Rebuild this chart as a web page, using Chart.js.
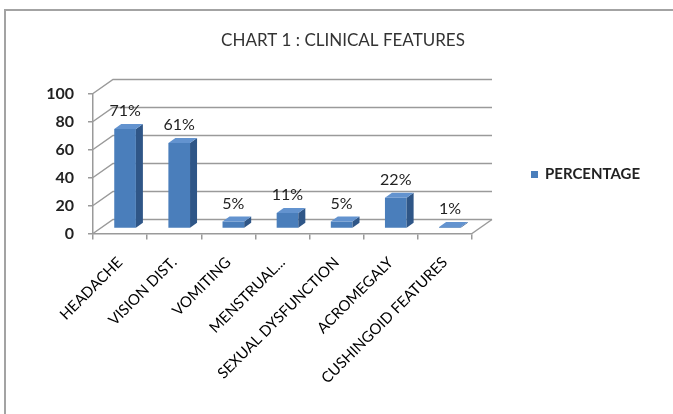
<!DOCTYPE html>
<html>
<head>
<meta charset="utf-8">
<script src="https://cdn.jsdelivr.net/npm/chart.js@4/dist/chart.umd.min.js"></script>
<style>
  html, body { margin: 0; padding: 0; background: #fff; }
  #wrap { width: 673px; height: 414px; }
</style>
</head>
<body>
<div id="wrap"><canvas id="myChart"></canvas></div>
<script>
var categories = ["HEADACHE", "VISION DIST.", "VOMITING", "MENSTRUAL...", "SEXUAL DYSFUNCTION", "ACROMEGALY", "CUSHINGOID FEATURES"];
var percentages = [71, 61, 5, 11, 5, 22, 1];
var yMin = 0, yMax = 100, yStep = 20;
var seriesName = "PERCENTAGE";
var chartTitle = "CHART 1 : CLINICAL FEATURES";

// fake 3d look (excel style)
var WALL_X = 20, WALL_Y = 14;   // back wall offset
var BAR_X = 5, BAR_Y = 5;       // bars sit half way into the floor
var DEPTH_X = 7, DEPTH_Y = 5;   // bar depth
var frontColor = "#4A7EBB", sideColor = "#2F5687", topColor = "#6393CF";
var lineColor = "#9a9a9a";

var threeD = {
  id: "threeD",
  beforeDraw: function (chart) {
    var ctx = chart.ctx;
    ctx.save();
    ctx.strokeStyle = "#a3a3a3";
    ctx.lineWidth = 2;
    ctx.strokeRect(5, 10, 720, 460);
    ctx.restore();
  },
  beforeDatasetsDraw: function (chart) {
    var ctx = chart.ctx;
    var a = chart.chartArea;
    var y = chart.scales.y;
    ctx.save();
    ctx.strokeStyle = lineColor;
    ctx.lineWidth = 1.5;
    y.ticks.forEach(function (t) {
      var py = y.getPixelForValue(t.value);
      ctx.beginPath();
      ctx.moveTo(a.left, py);
      ctx.lineTo(a.left + WALL_X, py - WALL_Y);
      ctx.lineTo(a.right + WALL_X, py - WALL_Y);
      ctx.stroke();
    });
    // right edge of the floor
    ctx.beginPath();
    ctx.moveTo(a.right, a.bottom);
    ctx.lineTo(a.right + WALL_X, a.bottom - WALL_Y);
    ctx.stroke();
    ctx.restore();

    ctx.save();
    ctx.translate(BAR_X, -BAR_Y);
  },
  afterDatasetsDraw: function (chart) {
    var ctx = chart.ctx;
    ctx.restore();
    var meta = chart.getDatasetMeta(0);
    var vals = chart.data.datasets[0].data;
    ctx.save();
    meta.data.forEach(function (bar, i) {
      var l = bar.x - bar.width / 2 + BAR_X;
      var r = bar.x + bar.width / 2 + BAR_X;
      var t = bar.y - BAR_Y;
      var b = bar.base - BAR_Y;
      ctx.fillStyle = sideColor;
      ctx.beginPath();
      ctx.moveTo(r, t);
      ctx.lineTo(r + DEPTH_X, t - DEPTH_Y);
      ctx.lineTo(r + DEPTH_X, b - DEPTH_Y);
      ctx.lineTo(r, b);
      ctx.closePath();
      ctx.fill();
      ctx.fillStyle = topColor;
      ctx.beginPath();
      ctx.moveTo(l, t);
      ctx.lineTo(l + DEPTH_X, t - DEPTH_Y);
      ctx.lineTo(r + DEPTH_X, t - DEPTH_Y);
      ctx.lineTo(r, t);
      ctx.closePath();
      ctx.fill();

      ctx.fillStyle = "#222";
      ctx.font = "16px Lato";
      ctx.textAlign = "center";
      ctx.textBaseline = "middle";
      ctx.fillText(vals[i] + "%", bar.x + BAR_X, t - 18);
    });
    ctx.restore();
  },
  afterDraw: function (chart) {
    // legend on the right, next to the plot
    var ctx = chart.ctx;
    var ds = chart.data.datasets[0];
    var a = chart.chartArea;
    var lx = a.right + 59, ly = (a.top + a.bottom) / 2 + 11;
    ctx.save();
    ctx.fillStyle = ds.backgroundColor;
    ctx.fillRect(lx, ly - 3.5, 7, 7);
    ctx.fillStyle = "#222";
    ctx.font = "bold 15px Lato";
    ctx.textAlign = "left";
    ctx.textBaseline = "middle";
    ctx.fillText(ds.label, lx + 14, ly);
    ctx.restore();
  }
};

var ctx = document.getElementById("myChart").getContext("2d");

var data = {
  labels: categories,
  datasets: [
    {
      label: seriesName,
      data: percentages,
      backgroundColor: frontColor,
      borderWidth: 0,
      barPercentage: 0.4,
      categoryPercentage: 1,
    },
  ],
};

var options = {
  responsive: true,
  maintainAspectRatio: false,
  animation: false,
  layout: {
    padding: { left: 13, right: 0, top: 0, bottom: 0 },
  },
  plugins: {
    title: {
      display: true,
      text: chartTitle,
      color: "#333",
      font: { family: "Lato", size: 17, weight: "normal" },
      padding: { top: 30.8, bottom: 42.3 },
    },
    legend: { display: false },
    tooltip: { enabled: false },
  },
  scales: {
    x: {
      grid: {
        display: true,
        drawOnChartArea: false,
        drawTicks: true,
        tickLength: 6,
        color: lineColor,
        lineWidth: 1.5,
        offset: true,
      },
      border: { display: true, color: lineColor, width: 1.5 },
      ticks: {
        autoSkip: false,
        maxRotation: 45,
        minRotation: 45,
        padding: 14,
        color: "#000",
        font: { family: "Lato", size: 15 },
      },
      afterFit: function (scale) {
        scale.height = 180.5;
      },
    },
    y: {
      min: yMin,
      max: yMax,
      grid: {
        display: true,
        drawOnChartArea: false,
        drawTicks: true,
        tickLength: 5,
        color: lineColor,
        lineWidth: 1.5,
      },
      border: { display: true, color: lineColor, width: 1.5 },
      ticks: {
        stepSize: yStep,
        padding: 14,
        color: "#222",
        font: { family: "Lato", size: 16, weight: "bold" },
      },
      afterFit: function (scale) {
        scale.width = 80;
      },
    },
    // empty space on the right where the legend goes
    legendSpace: {
      type: "linear",
      position: "right",
      grid: { display: false },
      border: { display: false },
      ticks: { display: false },
      afterFit: function (scale) {
        scale.width = 201;
      },
    },
  },
};

var myChart = new Chart(ctx, {
  type: "bar",
  data: data,
  options: options,
  plugins: [threeD],
});
</script>
</body>
</html>
